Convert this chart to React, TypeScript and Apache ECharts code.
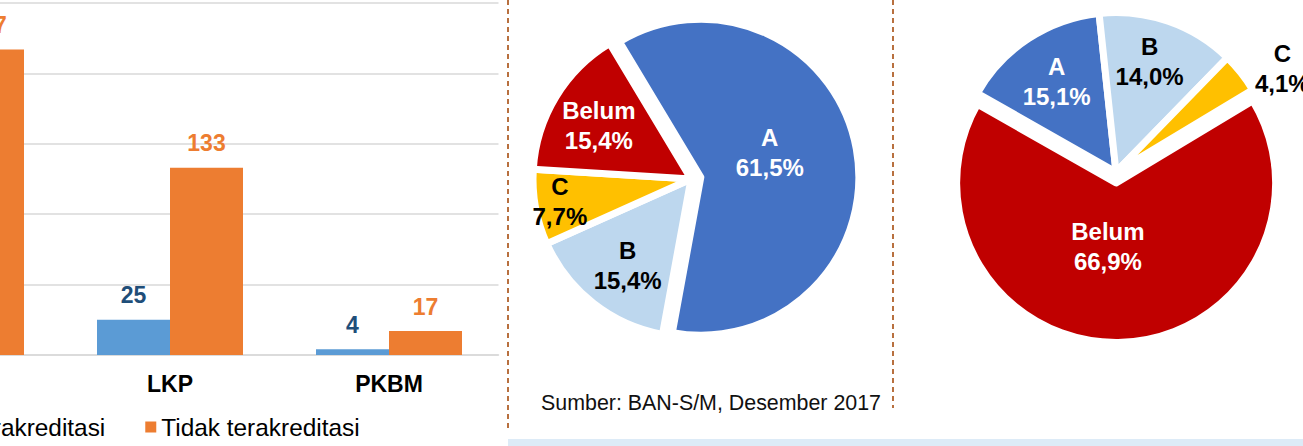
import React, { useEffect, useRef } from 'react';
import * as echarts from 'echarts';

// ---------- data ----------
const barCategories = ['SKB', 'LKP', 'PKBM'];
const accredited = [40, 25, 4];
const notAccredited = [217, 133, 17];
const barSeriesNames = ['Terakreditasi', 'Tidak terakreditasi'];
const yTicks = [0, 50, 100, 150, 200, 250];

const pieNames = ['A', 'B', 'C', 'Belum'];
const pieLeftValues = [61.5, 15.4, 7.7, 15.4];
const pieRightValues = [15.1, 14.0, 4.1, 66.9];
const pieLeftExploded = [true, false, false, false];
const pieRightExploded = [false, false, false, true];

const sourceNote = 'Sumber: BAN-S/M, Desember 2017';

// ---------- styles ----------
const FONT = "'Liberation Sans', Arial, Helvetica, sans-serif";
const OX = 200; // container is shifted left by this amount
const pieColors = ['#4472C4', '#BDD7EE', '#FFC000', '#C00000'];
const pieLabelColors = ['#ffffff', '#000000', '#000000', '#ffffff'];

function labelShifts(
  values: number[],
  startAngle: number,
  fracs: number[],
  r: number,
  nudges: number[][]
) {
  const sum = values.reduce((a, b) => a + b, 0);
  let acc = 0;
  return values.map((v, i) => {
    const mid = ((startAngle - ((acc + v / 2) / sum) * 360) * Math.PI) / 180;
    acc += v;
    const k = (fracs[i] - 0.5) * r - 3;
    return [k * Math.cos(mid) + nudges[i][0], -k * Math.sin(mid) + nudges[i][1]];
  });
}

function pieSeries(
  values: number[],
  exploded: boolean[],
  center: [number, number],
  radius: number,
  startAngle: number,
  fracs: number[],
  nudges: number[][],
  offset: number
) {
  const sh = labelShifts(values, startAngle, fracs, radius, nudges);
  return {
    type: 'pie',
    center,
    radius,
    startAngle,
    clockwise: true,
    selectedMode: 'multiple',
    selectedOffset: offset,
    avoidLabelOverlap: false,
    silent: true,
    itemStyle: { borderColor: '#ffffff', borderWidth: 7, borderJoin: 'round' },
    label: {
      show: true,
      position: 'inside',
      fontFamily: FONT,
      fontSize: 24,
      fontWeight: 'bold',
      lineHeight: 30,
      align: 'center',
      formatter: (p: any) => `${p.name}\n${Number(p.value).toFixed(1).replace('.', ',')}%`,
    },
    labelLine: { show: false },
    labelLayout: (p: any) => ({ dx: sh[p.dataIndex][0], dy: sh[p.dataIndex][1] }),
    data: values.map((v, i) => ({
      name: pieNames[i],
      value: v,
      selected: exploded[i],
      itemStyle: { color: pieColors[i] },
      label: { color: pieLabelColors[i] },
      select: {
        itemStyle: { color: pieColors[i], borderColor: '#ffffff', borderWidth: 7 },
        label: { color: pieLabelColors[i] },
      },
    })),
  };
}

export default function App() {
  const ref = useRef<HTMLDivElement>(null);

  useEffect(() => {
    document.body.style.margin = '0';
    document.body.style.overflow = 'hidden';
    const chart = echarts.init(ref.current!, undefined, { renderer: 'svg' });
    const option: any = {
      animation: false,
      backgroundColor: '#ffffff',
      textStyle: { fontFamily: FONT },
      legend: {
        data: barSeriesNames,
        left: 151,
        top: 415,
        padding: 0,
        itemWidth: 11,
        itemHeight: 11,
        itemGap: 40,
        icon: 'rect',
        selectedMode: false,
        textStyle: { fontFamily: FONT, fontSize: 24.4, color: '#000000' },
      },
      grid: { left: -158.5 + OX, top: 3, width: 657, height: 352, containLabel: false },
      xAxis: {
        type: 'category',
        data: barCategories,
        axisLine: { show: true, lineStyle: { color: '#D9D9D9', width: 1.5 } },
        axisTick: { show: false },
        axisLabel: {
          margin: 17,
          fontFamily: FONT,
          fontSize: 23,
          fontWeight: 'bold',
          color: '#000000',
        },
      },
      yAxis: {
        type: 'value',
        min: yTicks[0],
        max: yTicks[yTicks.length - 1],
        interval: yTicks[1] - yTicks[0],
        axisLine: { show: false },
        axisTick: { show: false },
        axisLabel: { show: false },
        splitLine: { lineStyle: { color: '#D9D9D9', width: 1.5 } },
      },
      series: [
        {
          name: barSeriesNames[0],
          type: 'bar',
          data: accredited,
          barWidth: 73,
          barGap: '0%',
          itemStyle: { color: '#5B9BD5' },
          label: {
            show: true,
            position: 'top',
            distance: 13,
            fontFamily: FONT,
            fontSize: 23,
            fontWeight: 'bold',
            color: '#1F4E79',
          },
        },
        {
          name: barSeriesNames[1],
          type: 'bar',
          data: notAccredited,
          barWidth: 73,
          barGap: '0%',
          itemStyle: { color: '#ED7D31' },
          label: {
            show: true,
            position: 'top',
            distance: 13,
            fontFamily: FONT,
            fontSize: 23,
            fontWeight: 'bold',
            color: '#ED7D31',
          },
        },
        pieSeries(
          pieLeftValues,
          pieLeftExploded,
          [691 + OX, 179],
          158,
          121,
          [0.45, 0.68, 0.85, 0.69],
          [[-1, -11.5], [3, 2], [1, -2], [1, 3]],
          10
        ),
        pieSeries(
          pieRightValues,
          pieRightExploded,
          [1116 + OX, 172],
          159.5,
          150.4,
          [0.69, 0.74, 1.25, 0.4],
          [[1, 2], [-5, 1], [10, 20], [-9, 0]],
          11
        ),
      ],
      graphic: [
        {
          type: 'line',
          shape: { x1: 508 + OX, y1: 0, x2: 508 + OX, y2: 430 },
          style: { stroke: '#B8703F', lineWidth: 2, lineDash: [5, 4] },
          silent: true,
        },
        {
          type: 'line',
          shape: { x1: 893 + OX, y1: 0, x2: 893 + OX, y2: 408 },
          style: { stroke: '#B8703F', lineWidth: 2, lineDash: [5, 4] },
          silent: true,
        },
        {
          type: 'rect',
          shape: { x: 508 + OX, y: 439, width: 1303 - 508, height: 7 },
          style: { fill: '#DDEBF7' },
          silent: true,
        },
        {
          type: 'text',
          x: 541 + OX,
          y: 403,
          style: {
            text: sourceNote,
            fontFamily: FONT,
            fontSize: 21.4,
            fill: '#111111',
            textAlign: 'left',
            textVerticalAlign: 'middle',
          },
          silent: true,
        },
      ],
    };
    chart.setOption(option);
    return () => chart.dispose();
  }, []);

  return (
    <div
      ref={ref}
      style={{ position: 'absolute', left: -OX, top: 0, width: 1303 + OX, height: 446 }}
    />
  );
}
